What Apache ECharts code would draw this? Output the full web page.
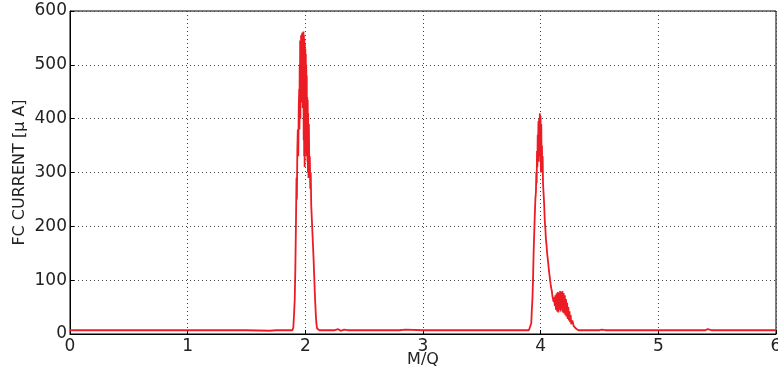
<!DOCTYPE html>
<html>
<head>
<meta charset="utf-8">
<script src="https://cdn.jsdelivr.net/npm/echarts@6/dist/echarts.min.js"></script>
<style>
  html, body { margin: 0; padding: 0; background: #fff; }
  #main { width: 778px; height: 372px; }
</style>
</head>
<body>
<div id="main"></div>
<script>
// M/Q positions and Faraday cup current readings (uA)
var mqValues = [
  0, 0.5, 1.0, 1.5, 1.7, 1.75, 1.85, 1.89,
  1.898, 1.905, 1.91, 1.915, 1.92, 1.925, 1.928, 1.932, 1.936, 1.94, 1.944, 1.948,
  1.950, 1.952, 1.954, 1.956, 1.958, 1.960, 1.962, 1.964, 1.966, 1.968, 1.970, 1.972,
  1.974, 1.976, 1.978, 1.980, 1.982, 1.984, 1.986, 1.988, 1.990, 1.992, 1.994, 1.996,
  1.998, 2.000, 2.002, 2.004, 2.006, 2.008, 2.010, 2.012, 2.014, 2.016, 2.018, 2.020,
  2.022, 2.024, 2.027, 2.030, 2.034, 2.038, 2.042, 2.046, 2.050, 2.055, 2.060, 2.065,
  2.070, 2.075, 2.080, 2.085, 2.090, 2.095, 2.100, 2.11, 2.12,
  2.25, 2.28, 2.30, 2.33, 2.36, 2.8, 2.85, 3.0, 3.5, 3.9, 3.915,
  3.920, 3.925, 3.930, 3.935, 3.940, 3.945, 3.950, 3.955, 3.960, 3.963, 3.966, 3.969,
  3.972, 3.975, 3.978, 3.981, 3.984, 3.987, 3.990, 3.993, 3.996, 3.999, 4.002, 4.005,
  4.008, 4.011, 4.014, 4.017, 4.020, 4.025, 4.030, 4.035, 4.040, 4.045, 4.050, 4.055,
  4.060, 4.065, 4.070, 4.075, 4.080, 4.085, 4.090, 4.095, 4.100, 4.105, 4.110, 4.115,
  4.120, 4.125, 4.130, 4.135, 4.140, 4.145, 4.150, 4.155, 4.160, 4.165, 4.170, 4.175,
  4.180, 4.185, 4.190, 4.195, 4.200, 4.205, 4.210, 4.215, 4.220, 4.225, 4.230, 4.235,
  4.240, 4.245, 4.250, 4.255, 4.260, 4.270, 4.280, 4.290, 4.300, 4.310, 4.320,
  4.5, 4.52, 4.55, 5.0, 5.4, 5.42, 5.45, 6.0
];
var currentValues = [
  7, 7, 7, 7, 6, 7, 7, 7,
  12, 40, 65, 120, 200, 290, 250, 340, 380, 330, 420, 455,
  380, 500, 420, 545, 400, 530, 460, 555, 430, 548, 500, 558,
  450, 560, 420, 552, 470, 562, 360, 555, 330, 548, 310, 540,
  370, 530, 340, 520, 360, 500, 330, 480, 350, 440, 320, 435,
  300, 410, 290, 390, 300, 330, 270, 300, 240, 215, 190, 165,
  140, 110, 80, 55, 32, 18, 10, 8, 7,
  7, 9, 6, 8, 7, 7, 8, 7, 7, 7, 8,
  20, 45, 65, 100, 150, 185, 220, 250, 265, 300, 280, 340,
  310, 370, 330, 395, 320, 400, 350, 410, 330, 405, 300, 390,
  320, 350, 300, 330, 280, 260, 240, 210, 195, 175, 165, 150,
  140, 130, 118, 110, 100, 92, 85, 80, 70, 72, 60, 68,
  52, 72, 45, 75, 42, 78, 40, 76, 45, 80, 42, 78,
  45, 80, 40, 76, 38, 72, 35, 65, 32, 58, 28, 50,
  25, 42, 22, 35, 18, 25, 15, 18, 10, 8, 7,
  7, 8, 7, 7, 7, 9, 7, 7
];

var xTicks = [0, 1, 2, 3, 4, 5, 6];
var yTicks = [0, 100, 200, 300, 400, 500, 600];

var chartDom = document.getElementById('main');
var myChart = echarts.init(chartDom, null, { renderer: 'canvas' });

var points = [];
for (var i = 0; i < mqValues.length; i++) {
  points.push([mqValues[i], currentValues[i]]);
}

var font = 'DejaVu Sans';
var gridLine = { show: true, lineStyle: { color: '#444', width: 1, type: [1, 3] } };

var option = {
  backgroundColor: '#fff',
  animation: false,
  grid: {
    left: 70, right: 2, top: 11, bottom: 38,
    containLabel: false, outerBoundsMode: 'none',
    show: true, borderColor: '#000', borderWidth: 1
  },
  xAxis: {
    type: 'value',
    min: xTicks[0], max: xTicks[xTicks.length - 1], interval: 1,
    name: 'M/Q', nameLocation: 'middle', nameGap: 18, nameMoveOverlap: false,
    nameTextStyle: { fontFamily: font, fontSize: 16, color: '#222' },
    axisLine: { show: true, lineStyle: { color: '#000', width: 1 } },
    axisTick: { show: true, inside: true, length: 4, lineStyle: { color: '#000' } },
    axisLabel: { fontFamily: font, fontSize: 17, color: '#222', margin: 4 },
    splitLine: gridLine
  },
  yAxis: {
    type: 'value',
    min: yTicks[0], max: yTicks[yTicks.length - 1], interval: 100,
    name: 'FC CURRENT [μ A]', nameLocation: 'middle', nameGap: 42, nameMoveOverlap: false,
    nameTextStyle: { fontFamily: font, fontSize: 16, color: '#222' },
    axisLine: { show: true, lineStyle: { color: '#000', width: 1 } },
    axisTick: { show: true, inside: true, length: 4, lineStyle: { color: '#000' } },
    axisLabel: { fontFamily: font, fontSize: 17, color: '#222', margin: 3 },
    splitLine: gridLine
  },
  series: [{
    type: 'line',
    data: points,
    showSymbol: false,
    lineStyle: { color: '#ec1c24', width: 1.8 },
    z: 5
  }]
};

option && myChart.setOption(option, true);
window.onresize = function () { myChart.resize(); };
</script>
</body>
</html>
